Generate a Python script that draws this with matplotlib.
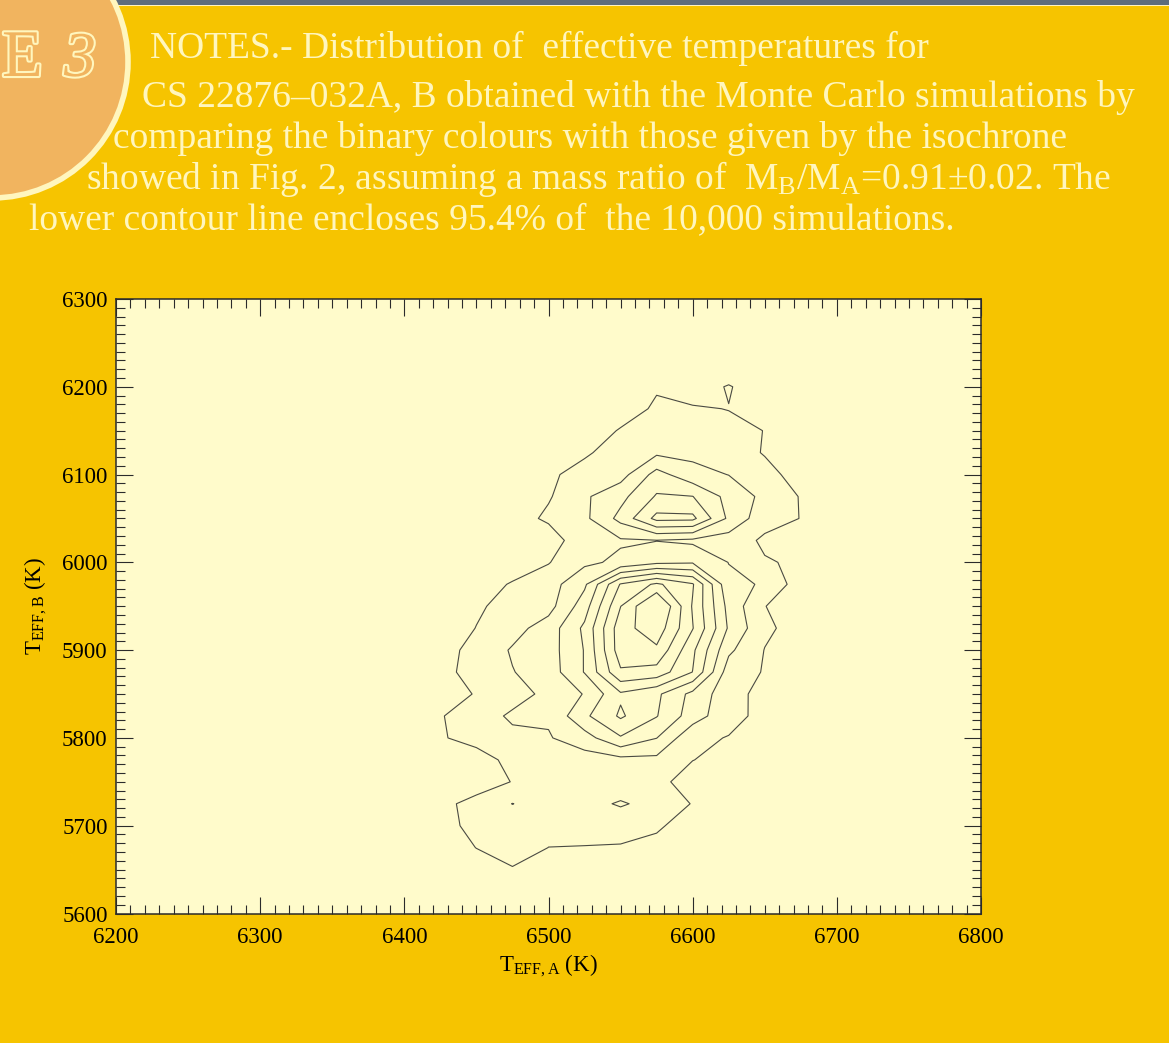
import numpy as np
import matplotlib.pyplot as plt
import matplotlib.patheffects as pe
from matplotlib.patches import Circle, Rectangle
from matplotlib.ticker import MultipleLocator

plt.rcParams['font.family'] = ['Liberation Serif', 'DejaVu Serif']
plt.rcParams['mathtext.fontset'] = 'custom'
plt.rcParams['mathtext.rm'] = 'Liberation Serif'
plt.rcParams['mathtext.it'] = 'Liberation Serif:italic'

W, H = 1169, 1043
PAGE = '#F6C400'
CREAM = '#FFF6BE'
BADGE = '#F1B45F'
PANEL = '#FFFBCB'
INK = '#4a4a42'

# grid of the Monte Carlo histogram (K)
teff_a = [6400, 6425, 6450, 6475, 6500, 6525, 6550, 6575, 6600, 6625, 6650, 6675, 6700]
teff_b = [6225, 6200, 6175, 6150, 6125, 6100, 6075, 6050, 6025, 6000, 5975, 5950, 5925,
          5900, 5875, 5850, 5825, 5800, 5775, 5750, 5725, 5700, 5675, 5650, 5625]

# relative density of simulations per bin, one row per teff_b value
density = [
    [0, 0, 0, 0, 0, 0, 0, 0, 0, 0, 0, 0, 0],
    [0, 0, 0, 0, 0, 0, 0.10, 0.88, 0.37, 1.10, 0.20, 0, 0],
    [0, 0, 0, 0, 0, 0.10, 0.39, 1.19, 1.12, 0.97, 0.50, 0.10, 0],
    [0, 0, 0, 0, 0, 0.27, 1.10, 1.50, 1.55, 1.30, 0.98, 0.20, 0],
    [0, 0, 0, 0, 0.30, 0.83, 1.55, 1.81, 1.76, 1.50, 0.93, 0.30, 0],
    [0, 0, 0, 0.30, 0.79, 1.45, 1.60, 3.38, 2.33, 1.98, 1.33, 0.60, 0.10],
    [0, 0, 0.10, 0.40, 0.90, 1.85, 2.70, 4.10, 4.02, 2.68, 1.74, 0.94, 0.20],
    [0, 0, 0.10, 0.49, 1.20, 1.78, 3.30, 5.30, 5.25, 2.80, 1.37, 0.98, 0.30],
    [0, 0, 0.10, 0.30, 0.37, 1.80, 1.89, 1.97, 1.80, 1.55, 0.83, 0.50, 0.20],
    [0, 0, 0.20, 0.50, 0.95, 1.80, 2.20, 2.78, 2.90, 1.98, 1.08, 0.86, 0.30],
    [0, 0.20, 0.58, 1.08, 1.55, 2.82, 6.08, 7.18, 6.10, 2.21, 1.92, 0.44, 0.10],
    [0, 0.40, 0.88, 1.30, 1.63, 3.53, 6.98, 9.34, 5.90, 2.67, 1.02, 0.50, 0.10],
    [0, 0.50, 1.02, 1.63, 2.47, 4.20, 7.60, 8.60, 6.05, 2.87, 1.20, 0.58, 0],
    [0.10, 0.65, 1.30, 2.10, 2.55, 4.05, 7.57, 7.81, 5.20, 2.20, 0.97, 0.30, 0],
    [0.05, 0.72, 1.35, 1.96, 2.48, 4.05, 6.86, 6.60, 4.98, 1.47, 0.94, 0.20, 0],
    [0, 0.27, 1.10, 1.51, 2.30, 3.05, 4.85, 4.20, 2.70, 1.40, 0.66, 0.10, 0],
    [0.10, 0.95, 1.40, 2.20, 2.13, 3.80, 5.15, 4.05, 2.50, 1.30, 0.74, 0.10, 0],
    [0, 0.92, 1.30, 1.70, 1.92, 2.58, 3.90, 3.02, 1.20, 0.96, 0.30, 0, 0],
    [0, 0.30, 0.62, 1.25, 1.40, 1.54, 1.70, 1.75, 1.03, 0.50, 0.10, 0, 0],
    [0, 0.20, 0.70, 1.02, 1.30, 1.40, 1.10, 1.45, 0.30, 0.10, 0, 0, 0],
    [0.10, 0.84, 1.20, 2.02, 1.50, 1.52, 2.15, 1.52, 0.96, 0.20, 0, 0, 0],
    [0, 0.70, 1.25, 1.30, 1.35, 1.30, 1.10, 1.22, 0.30, 0, 0, 0, 0],
    [0, 0.30, 1.02, 1.60, 0.99, 0.97, 0.98, 0.57, 0.10, 0, 0, 0, 0],
    [0, 0, 0.40, 0.90, 0.50, 0.30, 0.30, 0.10, 0, 0, 0, 0, 0],
    [0, 0, 0, 0, 0, 0, 0, 0, 0, 0, 0, 0, 0],
]
levels = [1, 2, 3, 4, 5, 6, 7, 8]

caption = [
    'NOTES.- Distribution of  effective temperatures for',
    'CS 22876\u2013032A, B obtained with the Monte Carlo simulations by',
    'comparing the binary colours with those given by the isochrone',
    r'showed in Fig. 2, assuming a mass ratio of  M$_{\rm B}$/M$_{\rm A}$=0.91$\pm$0.02. The',
    'lower contour line encloses 95.4% of  the 10,000 simulations.',
]
caption_x = [150, 142, 113, 86, 29]
caption_y = [58, 107, 148, 189, 229]

fig = plt.figure(figsize=(W / 100, H / 100), dpi=100, facecolor=PAGE)

# page decoration in pixel units
deco = fig.add_axes([0, 0, 1, 1])
deco.set_xlim(0, W)
deco.set_ylim(H, 0)
deco.axis('off')
deco.add_patch(Rectangle((0, 0), W, 4.5, color='#5E6D7C', lw=0))
deco.add_patch(Rectangle((0, 4.5), W, 1.5, color='#FFF3C0', lw=0))
deco.add_patch(Circle((-8, 62), 136, facecolor=BADGE, edgecolor=CREAM, lw=4, zorder=3))
badge_fx = [pe.Stroke(linewidth=3, foreground=CREAM), pe.Normal()]
deco.text(2, 76, 'E', ha='left', va='baseline', fontsize=48, color=BADGE,
          path_effects=badge_fx, zorder=4)
deco.text(64, 76, '3', ha='left', va='baseline', fontsize=46, style='italic',
          color=BADGE, path_effects=badge_fx, zorder=4)
for line, x, y in zip(caption, caption_x, caption_y):
    deco.text(x, y, line, ha='left', va='baseline', fontsize=27, color=CREAM)

ax = fig.add_axes([116 / W, 1 - 913.5 / H, 865 / W, 614.5 / H], facecolor=PANEL)
ax.contour(teff_a, teff_b[::-1], np.flipud(np.array(density)), levels=levels,
           colors=INK, linewidths=0.8)
ax.set_xlim(6200, 6800)
ax.set_ylim(5600, 6300)
ax.xaxis.set_major_locator(MultipleLocator(100))
ax.xaxis.set_minor_locator(MultipleLocator(10))
ax.yaxis.set_major_locator(MultipleLocator(100))
ax.yaxis.set_minor_locator(MultipleLocator(10))
ax.tick_params(which='both', direction='in', top=True, right=True, color='#2b2b2b',
               labelsize=16.5, labelcolor='black')
ax.tick_params(which='major', length=12, width=0.8)
ax.tick_params(which='minor', length=6.5, width=0.8)
ax.tick_params(axis='x', pad=9.5)
ax.tick_params(axis='y', pad=6)
for s in ax.spines.values():
    s.set_color('#2b2b2b')
    s.set_linewidth(1.1)

ax.set_xlabel(r'T$_{\rm EFF,A}$ (K)', fontsize=16.5)
ax.set_ylabel(r'T$_{\rm EFF,B}$ (K)', fontsize=16.5)
ax.xaxis.set_label_coords(0.5, -0.064)
ax.yaxis.set_label_coords(-0.078, 0.5)

fig.savefig('out.png', dpi=100, facecolor=PAGE)
